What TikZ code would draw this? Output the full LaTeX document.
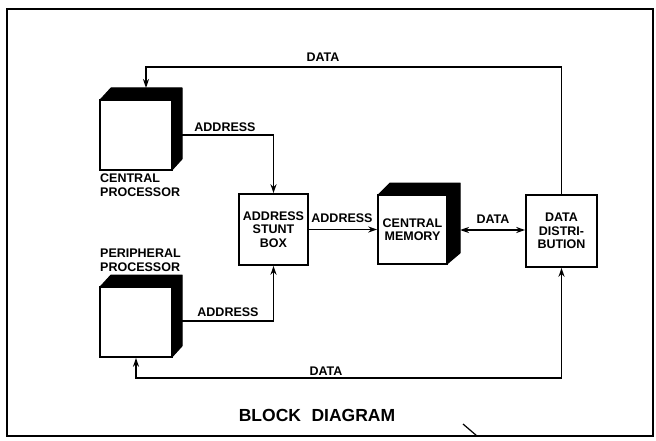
\documentclass[tikz,border=0pt]{standalone}
\usepackage{fontspec}
\setmainfont{Liberation Sans}
\usetikzlibrary{arrows.meta,calc}
\begin{document}
\begin{tikzpicture}[x=1pt,y=-1pt,
  lbl/.style={font=\bfseries\fontsize{12.5}{13.5}\selectfont, inner sep=0pt},
  blk/.style={draw, line width=1.6pt, fill=white, inner sep=0pt, align=center,
    font=\bfseries\fontsize{12.5}{13.5}\selectfont},
  conn/.style={line width=1.4pt},
  arr/.style={conn, -{Stealth[length=9pt,width=6pt]}},
  arrb/.style={conn, {Stealth[length=9pt,width=6pt]}-{Stealth[length=9pt,width=6pt]}},
  dark/.style={fill=black, draw=black, line width=1pt, line join=round}
]
\useasboundingbox (0,0) rectangle (656,441);
\fill[white] (0,0) rectangle (656,441);
\draw[line width=2.6pt] (7,9) rectangle (653,436);
\coordinate (tickA) at (463,424);
\coordinate (tickB) at (477,436);
\draw[line width=1.2pt] (tickA) -- (tickB);

% 3D shading
\draw[dark] (100,100) -- (111,88) -- (182,88) -- (182,159) -- (172,170) -- (172,100) -- cycle;
\draw[dark] (100,287) -- (111,275) -- (182,275) -- (182,346) -- (172,357) -- (172,287) -- cycle;
\draw[dark] (378,195) -- (390,183) -- (460,183) -- (460,253) -- (447,264) -- (447,195) -- cycle;

% blocks
\node[blk, minimum width=72pt, minimum height=70pt] (cp) at (136,135) {};
\node[blk, minimum width=72pt, minimum height=70pt] (pp) at (136,322) {};
\node[blk, minimum width=69pt, minimum height=71pt] (asb) at (273.5,229.5) {ADDRESS\\STUNT\\BOX};
\node[blk, minimum width=69pt, minimum height=69pt] (cm) at (412.5,229.5) {CENTRAL\\MEMORY};
\node[blk, minimum width=71pt, minimum height=72pt] (dd) at (561.5,231) {DATA\\DISTRI-\\BUTION};

% block captions
\node[lbl, align=left, anchor=north west, font=\bfseries\fontsize{12.5}{14}\selectfont] (cpl) at (100,174) {CENTRAL\\PROCESSOR};
\node[lbl, align=left, anchor=south west, font=\bfseries\fontsize{12.5}{14}\selectfont] (ppl) at (100,272) {PERIPHERAL\\PROCESSOR};

% connector labels
\node[lbl] (l1) at (323,57) {DATA};
\node[lbl] (l2) at (225,127) {ADDRESS};
\node[lbl] (l3) at (228,312) {ADDRESS};
\node[lbl] (l4) at (326,371) {DATA};
\node[lbl] (l5) at (342,218) {ADDRESS};
\node[lbl] (l6) at (493,219) {DATA};
\node[font=\bfseries\fontsize{17.5}{20}\selectfont, inner sep=0pt] (title) at (317,415) {BLOCK\hspace{0.6em}DIAGRAM};

% helper coordinates
\coordinate (topy) at (0,67);
\coordinate (boty) at (0,378);
\coordinate (cpin) at (146,88);
\coordinate (cpout) at (182,135);
\coordinate (ppout) at (182,321);
\coordinate (cmout) at (460,230);

% connectors
\draw[arr] (dd.north) -- (dd.north |- topy) -| (cpin);
\draw[arr] (cpout) -| (asb.north);
\draw[arr] (ppout) -| (asb.south);
\draw[arr] (asb.east) -- (asb.east -| cm.west);
\draw[arrb] (cmout) -- (cmout -| dd.west);
\draw[arrb] (pp.south) -- (pp.south |- boty) -| (dd.south);
\end{tikzpicture}
\end{document}
